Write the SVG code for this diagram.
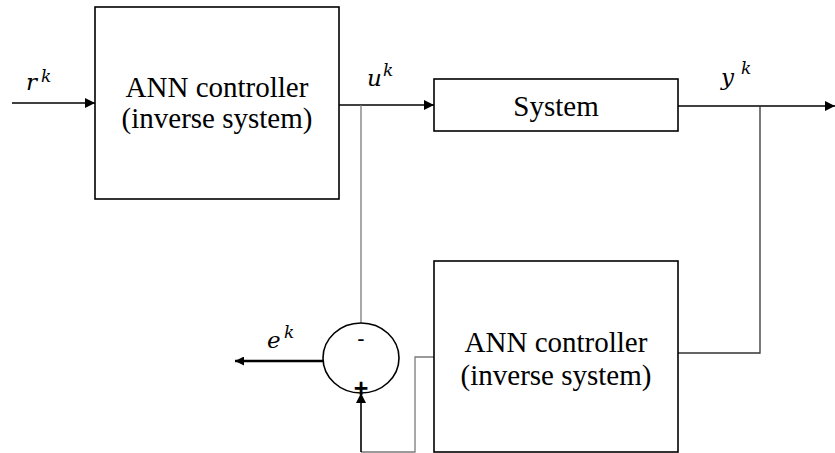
<svg xmlns="http://www.w3.org/2000/svg" width="835" height="453" viewBox="0 0 835 453">
<style>
.box{fill:#fff;stroke:#000;stroke-width:1.6}
.lbl{font-size:29px;fill:#000;text-anchor:middle}
.math{font-style:italic;font-size:23px;fill:#000}
.sup{font-size:17px}
.ln{fill:none;stroke:#000;stroke-width:1.6}
.gr{fill:none;stroke:#7a7a7a;stroke-width:1.3}
.sign{fill:#000;text-anchor:middle}
</style>
<defs>
<marker id="arr" viewBox="0 0 10 10" refX="10" refY="5" markerWidth="10" markerHeight="10" markerUnits="userSpaceOnUse" orient="auto">
<path d="M0,0 L10,5 L0,10 z" fill="#000"/>
</marker>
<marker id="arrS" viewBox="0 0 10 10" refX="10" refY="5" markerWidth="11" markerHeight="9" markerUnits="userSpaceOnUse" orient="auto">
<path d="M0,0 L10,5 L0,10 z" fill="#000"/>
</marker>
</defs>
<g id="connectors">
<path class="ln" d="M12,103 H95" marker-end="url(#arr)"/>
<path class="ln" d="M339,105 H434" marker-end="url(#arr)"/>
<path class="ln" d="M678,106 H835" marker-end="url(#arr)"/>
<path class="gr" d="M361,105 V323"/>
<path class="ln" d="M678,353 H760 V106" style="stroke:#333;stroke-width:1.3"/>
<path class="ln" d="M323,361 H235" style="stroke-width:2.6" marker-end="url(#arrS)"/>
<path class="gr" d="M434,357 H415 V452 H361"/>
<path class="ln" d="M361,452 V393" marker-end="url(#arr)"/>
</g>
<g id="controller1" font-family="Liberation Serif, Times New Roman, serif">
<rect class="box" x="95" y="7" width="244" height="192"/>
<text class="lbl" x="217" y="97">ANN controller</text>
<text class="lbl" x="217" y="128">(inverse system)</text>
</g>
<g id="system" font-family="Liberation Serif, Times New Roman, serif">
<rect class="box" x="434" y="79" width="244" height="52"/>
<text class="lbl" x="556" y="116">System</text>
</g>
<g id="controller2" font-family="Liberation Serif, Times New Roman, serif">
<rect class="box" x="434" y="261" width="244" height="191"/>
<text class="lbl" x="556" y="352">ANN controller</text>
<text class="lbl" x="556" y="385">(inverse system)</text>
</g>
<g id="summer" font-family="Liberation Sans, Arial, sans-serif">
<ellipse cx="361" cy="358" rx="38" ry="35" fill="#fff" stroke="#000" stroke-width="1.6"/>
<text class="sign" x="361" y="346" font-size="22">-</text>
<text class="sign" x="361" y="397" font-size="25" font-weight="bold">+</text>
</g>
<g id="labels" font-family="DejaVu Serif, serif">
<text class="math" x="26" y="90">r</text><text class="math sup" x="41" y="82">k</text>
<text class="math" x="367" y="86">u</text><text class="math sup" x="383" y="76">k</text>
<text class="math" x="721" y="85">y</text><text class="math sup" x="741" y="74">k</text>
<text class="math" x="267" y="348">e</text><text class="math sup" x="284" y="338">k</text>
</g>
</svg>
